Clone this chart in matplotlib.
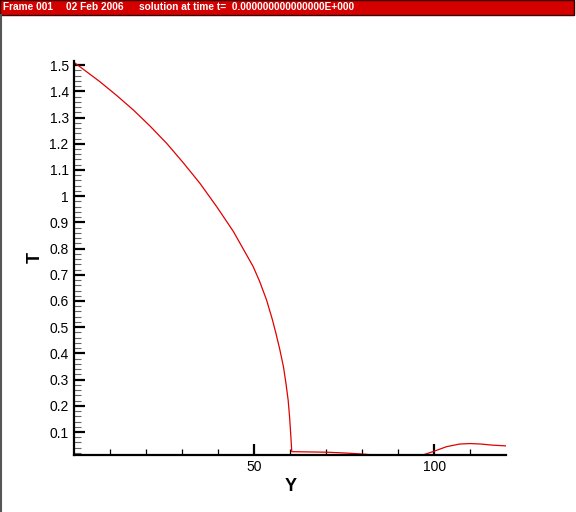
import matplotlib
matplotlib.use("Agg")
import matplotlib.pyplot as plt
from matplotlib.patches import Rectangle
from matplotlib.lines import Line2D
from matplotlib.ticker import FixedLocator, FormatStrFormatter

# data
y_pos = [0.0, 3.5, 7.1, 11.8, 16.4, 21.0, 25.7, 30.3, 34.9, 39.6, 44.2, 49.7,
         51.5, 53.4, 55.0, 56.0, 57.0, 58.1, 58.8, 59.4, 59.8, 60.1, 60.3, 60.4,
         65.0, 70.0, 75.0, 80.0, 85.0, 90.0, 95.0, 97.0, 100.0, 103.4,
         107.0, 110.0, 113.0, 116.0, 120.0]
temp = [1.51, 1.474, 1.437, 1.384, 1.329, 1.268, 1.201, 1.127, 1.049, 0.959,
        0.865, 0.731, 0.674, 0.604, 0.53, 0.477, 0.42, 0.349, 0.285, 0.222,
        0.158, 0.095, 0.05, 0.025, 0.024, 0.023, 0.020, 0.016, 0.010, 0.008,
        0.010, 0.013, 0.027, 0.044, 0.054, 0.056, 0.054, 0.050, 0.047]
y_major = [0.1, 0.2, 0.3, 0.4, 0.5, 0.6, 0.7, 0.8, 0.9, 1.0, 1.1, 1.2, 1.3, 1.4, 1.5]
x_major = [50, 100]
header = ["Frame 001", "02 Feb 2006", "solution at time t=  0.000000000000000E+000"]

plt.rcParams['font.family'] = ['Liberation Sans', 'DejaVu Sans']

fig = plt.figure(figsize=(5.76, 5.12), dpi=100)
W, H = 576, 512

# header bar
fig.patches.append(Rectangle((0, 1 - 15 / H), 574 / W, 15 / H, transform=fig.transFigure,
                             facecolor='#d40000', edgecolor='#3a0000', linewidth=1.0))
for txt, xp in zip(header, [3, 66, 139]):
    fig.text(xp / W, 1 - 7.5 / H, txt, color='white', fontsize=7.3, fontweight='bold',
             ha='left', va='center')
# left frame edge
fig.lines.append(Line2D([0.8 / W, 0.8 / W], [0, 1 - 15 / H], transform=fig.transFigure,
                        color='#555555', linewidth=1.5))

ax = fig.add_axes([74.3 / W, 1 - 454.7 / H, 432 / W, 394 / H])
ax.plot(y_pos, temp, color='#e00000', linewidth=0.9)

ax.set_xlim(0, 120)
ax.set_ylim(0.0134, 1.517)
for s in ['top', 'right']:
    ax.spines[s].set_visible(False)
for s in ['left', 'bottom']:
    ax.spines[s].set_linewidth(1.6)

ax.xaxis.set_major_locator(FixedLocator(x_major))
ax.xaxis.set_minor_locator(FixedLocator([10, 20, 30, 40, 60, 70, 80, 90, 110]))
ax.yaxis.set_major_locator(FixedLocator(y_major))
ax.yaxis.set_minor_locator(FixedLocator([0.02 + 0.02 * i for i in range(75) if (i + 1) % 5 != 0]))
ax.yaxis.set_major_formatter(FormatStrFormatter('%g'))

ax.tick_params(which='major', direction='in', length=8, width=1.6, labelsize=10, pad=4)
ax.tick_params(axis='y', which='minor', direction='in', length=5, width=0.8, color='#666666')
ax.tick_params(axis='x', which='minor', direction='in', length=4, width=0.9)

ax.set_xlabel('Y', fontsize=13, fontweight='bold', labelpad=3)
ax.set_ylabel('T', fontsize=13, fontweight='bold', labelpad=4)

fig.savefig('out.png', dpi=100)
